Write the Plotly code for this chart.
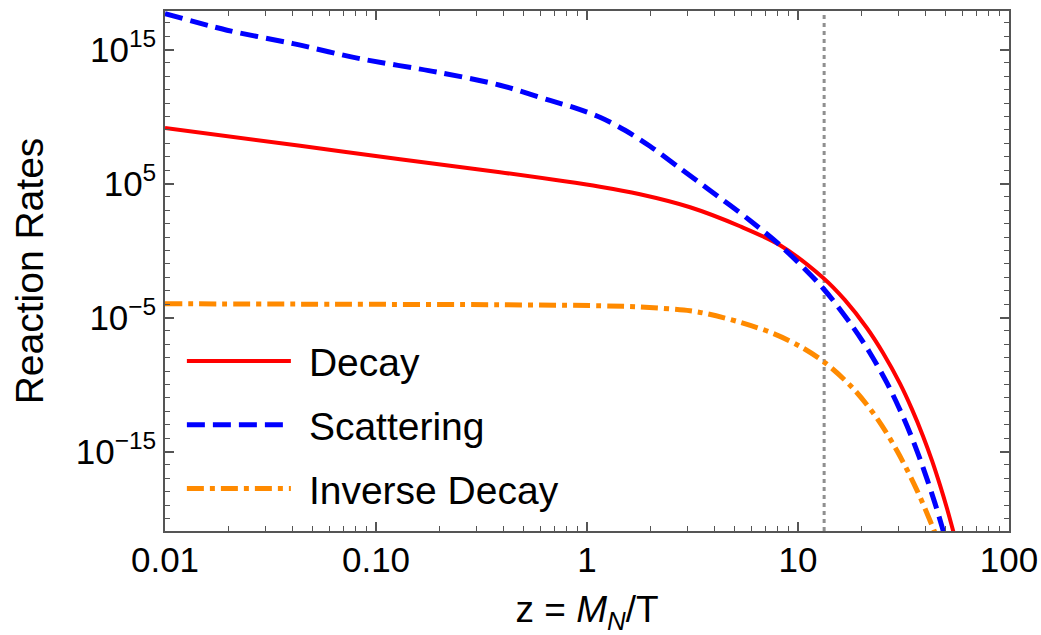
import plotly.graph_objects as go

# ---- data ----
z_decay = [0.01, 0.0437, 0.130, 0.387, 1.152, 1.783, 3.08, 5.31, 8.22, 13.14, 16.7, 21.2, 25.3, 30.4,
           34.7, 39.1, 43.2, 47.1, 50.8, 54.3, 56.0]
rate_decay = [1.41e9, 6.6e7, 6.5e6, 7.0e5, 5.8e4, 1.59e4, 1.7e3, 65, 2.5, 9.3e-3, 1.98e-4, 1.67e-6, 2.27e-8,
              1.21e-10, 1.40e-12, 1.47e-14, 2.0e-16, 3.07e-18, 5.8e-20, 1.27e-21, 2.0e-22]

z_scatt = [0.01, 0.01968, 0.0405, 0.0839, 0.1946, 0.387, 0.668, 0.877, 1.152, 1.514, 1.99, 2.76, 3.705,
           5.92, 8.22, 13.14, 18.23, 21.9, 26.4, 30.1, 33.9, 37.5, 40.9, 44.6, 48.1, 50.0]
rate_scatt = [4.9e17, 2.8e16, 2.8e15, 2.1e14, 2.1e13, 2.2e12, 1.6e11, 4.5e10, 8.9e9, 9.5e8, 6.1e7, 1.39e6, 4.5e4,
              1.76e2, 2.5, 1.54e-3, 1.93e-6, 2.39e-8, 1.32e-10, 1.86e-12, 2.55e-14, 4.2e-16, 8.7e-18, 1.35e-19,
              2.6e-21, 3.0e-22]

z_inv = [0.01, 0.0753, 0.387, 1.152, 1.783, 3.08, 3.705, 5.31, 7.62, 10.2, 13.43, 18.23, 23.7, 29.5, 36.6,
         43.6, 45.5]
rate_inv = [1.07e-4, 9.8e-5, 9.0e-5, 7.6e-5, 6.2e-5, 3.2e-5, 1.92e-5, 4.5e-6, 6.6e-7, 7.3e-8, 4.3e-9, 5.2e-11,
            3.0e-13, 1.09e-15, 1.33e-18, 2.1e-21, 3.7e-22]

z_marker = 13.3  # vertical dotted reference line

x_tickvals = [0.01, 0.1, 1, 10, 100]
x_ticktext = ["0.01", "0.10", "1", "10", "100"]
y_tickvals = [1e15, 1e5, 1e-5, 1e-15]
y_ticktext = ["10<sup>15</sup>", "10<sup>5</sup>", "10<sup>\u22125</sup>", "10<sup>\u221215</sup>"]

series_names = ["Decay", "Scattering", "Inverse Decay"]

# ---- figure ----
FONT = "Liberation Sans, Arial, Helvetica, sans-serif"
fig = go.Figure()

styles = [
    dict(color="#FF0000", width=4),
    dict(color="#0000FF", width=5, dash="18px,8px"),
    dict(color="#FF8A00", width=5, dash="17px,6px,5px,6px"),
]
for i, (xs, ys) in enumerate([(z_decay, rate_decay), (z_scatt, rate_scatt), (z_inv, rate_inv)]):
    fig.add_trace(go.Scatter(x=xs, y=ys, mode="lines", name="\u2004" + series_names[i],
                             legendgroup="g%d" % i,
                             line=dict(shape="spline", smoothing=0.9, **styles[i])))

fig.add_shape(type="line", xref="x", yref="paper", x0=z_marker, x1=z_marker, y0=0, y1=1,
              line=dict(color="#8f8f8f", width=3, dash="4px,4px"), layer="below")

x_minor = [m * 10.0 ** e for e in range(-2, 2) for m in range(2, 10)]
y_minor = [10.0 ** e for e in range(-21, 18)]

axis_common = dict(showline=True, linecolor="#555555", linewidth=1.5, mirror="ticks",
                   ticks="inside", tickcolor="#555555", tickwidth=1.5, ticklen=9,
                   showgrid=False, zeroline=False, ticklabeloverflow="allow", automargin=False,
                   tickfont=dict(family=FONT, size=35, color="black"))

fig.update_xaxes(type="log", range=[-2, 2], tickmode="array", tickvals=x_tickvals, ticktext=x_ticktext,
                 ticklabelstandoff=-3,
                 minor=dict(tickmode="array", tickvals=x_minor, ticks="inside", ticklen=5,
                            tickcolor="#555555", tickwidth=1.2, showgrid=False),
                 title=dict(text="z = <i>M</i><sub><i>N</i></sub>/T", font=dict(family=FONT, size=37, color="black"),
                            standoff=30),
                 **axis_common)
fig.update_yaxes(type="log", range=[-20.93, 17.88], tickmode="array", tickvals=y_tickvals, ticktext=y_ticktext,
                 minor=dict(tickmode="array", tickvals=y_minor, ticks="inside", ticklen=5,
                            tickcolor="#555555", tickwidth=1.2, showgrid=False),
                 title=dict(text="Reaction Rates", font=dict(family=FONT, size=39, color="black"), standoff=20),
                 **axis_common)

fig.update_layout(
    width=1041, height=635,
    margin=dict(l=165, r=32, t=11, b=104),
    paper_bgcolor="white", plot_bgcolor="white",
    showlegend=True,
    legend=dict(x=0.02, y=0.388, xanchor="left", yanchor="top", bgcolor="rgba(0,0,0,0)",
                font=dict(family=FONT, size=39, color="black"), itemwidth=104,
                tracegroupgap=10),
)

# remove the browser's default 8px body margin so the 1041x635 figure fills the window exactly
fig.write_html("out.html", config={"displayModeBar": False},
               post_script="document.body.style.margin='0px';")
